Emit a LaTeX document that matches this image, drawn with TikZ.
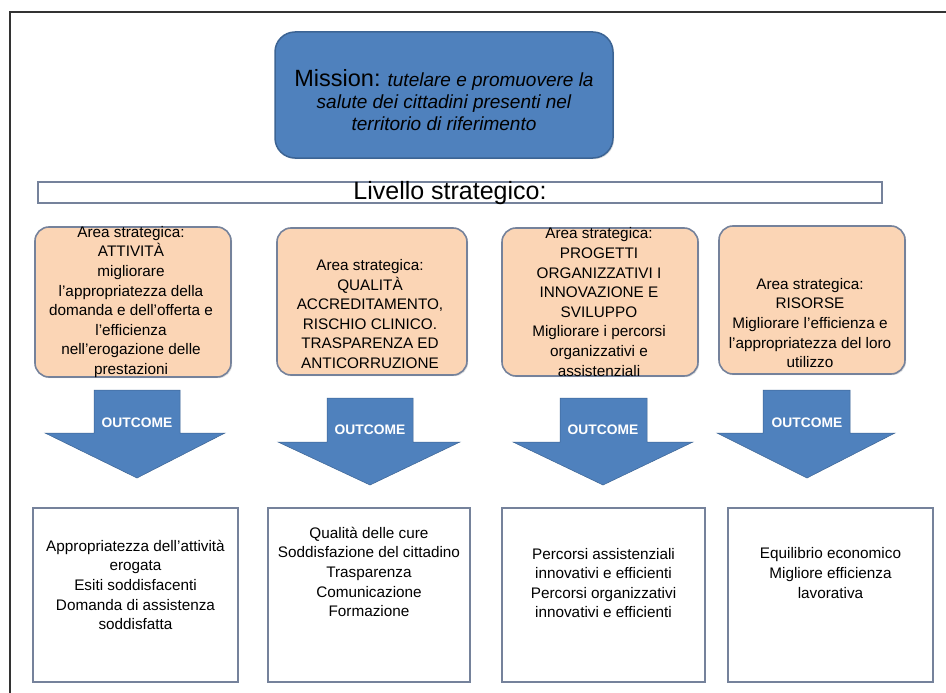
\documentclass[tikz,border=0pt]{standalone}
\usepackage{fontspec}
\setmainfont{Liberation Sans}
\usetikzlibrary{shadows}
\definecolor{mblue}{HTML}{4F81BD}
\definecolor{mblueb}{HTML}{3C6494}
\definecolor{peach}{HTML}{FBD5B5}
\definecolor{gborder}{HTML}{75829B}
\begin{document}
\begin{tikzpicture}[x=1pt,y=-1pt,
  orangebox/.style={draw=gborder, line width=1.6pt, fill=peach, rounded corners=14pt,
    drop shadow={opacity=0.25, shadow xshift=1.2pt, shadow yshift=-1.2pt}},
  whitebox/.style={draw=gborder, line width=1.6pt, fill=white,
    drop shadow={opacity=0.25, shadow xshift=1.2pt, shadow yshift=-1.2pt}},
  txt/.style={align=center, font=\fontsize{15.3}{19.6}\selectfont, inner sep=0pt},
  outarrow/.style={fill=mblue, draw=mblueb, line width=0.5pt, line join=miter},
  outlabel/.style={text=white, font=\bfseries\fontsize{13.8}{15}\selectfont, inner sep=0pt}]
\useasboundingbox (0,0) rectangle (946,693);
\fill[white] (0,0) rectangle (946,693);
% frame
\draw[line width=1.5pt, black!80] (10,693) -- (10,12) -- (946,12);

% mission
\node[draw=mblueb, line width=1.5pt, fill=mblue, rounded corners=20pt,
  minimum width=338pt, minimum height=126pt,
  drop shadow={opacity=0.25, shadow xshift=1.2pt, shadow yshift=-1.2pt}] (mission) at (444,95) {};
\node[align=center, inner sep=0pt, font=\fontsize{19}{22}\selectfont\itshape] (missiontxt) at (444,100)
  {{\upshape\fontsize{23.5}{22}\selectfont Mission:} tutelare e promuovere la\\
   salute dei cittadini presenti nel\\ territorio di riferimento};

% livello strategico bar
\node[draw=gborder, line width=2.2pt, fill=white, minimum width=844pt, minimum height=21pt,
  inner sep=0pt] (livello) at (460,192.5) {};
\node[inner sep=0pt, font=\fontsize{25}{26}\selectfont] (livellotxt) at (450,193) {Livello strategico:};

% orange boxes
\node[orangebox, minimum width=196pt, minimum height=150pt] (o1) at (133,302) {};
\node[orangebox, minimum width=190pt, minimum height=147pt] (o2) at (372,301.5) {};
\node[orangebox, minimum width=196pt, minimum height=148pt] (o3) at (600,302) {};
\node[orangebox, minimum width=186pt, minimum height=148pt] (o4) at (812,300) {};

\node[txt] (o1t) at (131,302) {Area strategica:\\ ATTIVITÀ\\ migliorare\\ l’appropriatezza della\\
  domanda e dell’offerta e\\ l’efficienza\\ nell’erogazione delle\\ prestazioni};
\node[txt] (o2t) at (370,314) {Area strategica:\\ QUALITÀ\\ ACCREDITAMENTO,\\ RISCHIO CLINICO.\\
  TRASPARENZA ED\\ ANTICORRUZIONE};
\node[txt] (o3t) at (599,302) {Area strategica:\\ PROGETTI\\ ORGANIZZATIVI I\\ INNOVAZIONE E\\
  SVILUPPO\\ Migliorare i percorsi\\ organizzativi e\\ assistenziali};
\node[txt] (o4t) at (810,323) {Area strategica:\\ RISORSE\\ Migliorare l’efficienza e\\
  l’appropriatezza del loro\\ utilizzo};

% arrows
\draw[outarrow] (94,390) -- (180,390) -- (180,433) -- (225,433) -- (137,478) -- (45,433) -- (94,433) -- cycle;
\draw[outarrow] (327,398) -- (413,398) -- (413,442) -- (460,442) -- (370,485) -- (278,442) -- (327,442) -- cycle;
\draw[outarrow] (560,398) -- (647,398) -- (647,442) -- (693,442) -- (603,485) -- (513,442) -- (560,442) -- cycle;
\draw[outarrow] (763,390) -- (850,390) -- (850,433) -- (895,433) -- (807,478) -- (717,433) -- (763,433) -- cycle;
\node[outlabel] (a1) at (137,423) {OUTCOME};
\node[outlabel] (a2) at (370,430) {OUTCOME};
\node[outlabel] (a3) at (603,430) {OUTCOME};
\node[outlabel] (a4) at (807,423) {OUTCOME};

% bottom boxes
\node[whitebox, minimum width=205pt, minimum height=174pt] (b1) at (135.5,595) {};
\node[whitebox, minimum width=202pt, minimum height=174pt] (b2) at (369,595) {};
\node[whitebox, minimum width=203pt, minimum height=174pt] (b3) at (603.5,595) {};
\node[whitebox, minimum width=205pt, minimum height=174pt] (b4) at (830.5,595) {};

\node[txt] (b1t) at (135.5,585) {Appropriatezza dell’attività\\ erogata\\ Esiti soddisfacenti\\
  Domanda di assistenza\\ soddisfatta};
\node[txt] (b2t) at (369,572) {Qualità delle cure\\ Soddisfazione del cittadino\\ Trasparenza\\
  Comunicazione\\ Formazione};
\node[txt] (b3t) at (603.5,583) {Percorsi assistenziali\\ innovativi e efficienti\\
  Percorsi organizzativi\\ innovativi e efficienti};
\node[txt] (b4t) at (830.5,573) {Equilibrio economico\\ Migliore efficienza\\ lavorativa};
\end{tikzpicture}
\end{document}
